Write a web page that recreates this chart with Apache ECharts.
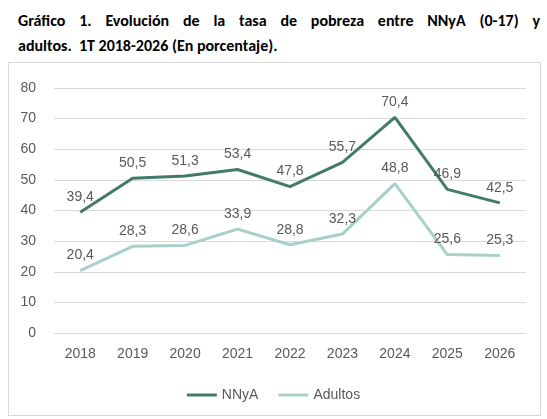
<!DOCTYPE html><html><head><meta charset="utf-8"><script src="https://cdn.jsdelivr.net/npm/echarts@6/dist/echarts.min.js"></script>
<style>body{margin:0;background:#fff;font-family:Carlito,'Liberation Sans',sans-serif}#t{position:absolute;left:18px;top:8px;font-weight:bold;font-size:16px;line-height:25px;color:#000;width:522px}#t1{text-align:justify;text-align-last:justify}#box{position:absolute;left:8px;top:62px;width:531px;height:352px;border:1px solid #d9d9d9}#c{position:absolute;left:0;top:0;width:547px;height:419px}</style></head><body>
<div id="t"><div id="t1">Gráfico 1. Evolución de la tasa de pobreza entre NNyA (0-17) y</div><div>adultos.&nbsp; 1T 2018-2026 (En porcentaje).</div></div><div id="box"></div><div id="c"></div>
<script>
const categories=['2018','2019','2020','2021','2022','2023','2024','2025','2026'];
const nnya=[39.4,50.5,51.3,53.4,47.8,55.7,70.4,46.9,42.5];
const adultos=[20.4,28.3,28.6,33.9,28.8,32.3,48.8,25.6,25.3];
const fmt=p=>String(p.value).replace('.',',');
const lbl={show:true,position:'top',color:'#595959',fontSize:14,formatter:fmt,distance:8};
echarts.init(document.getElementById('c')).setOption({
animation:false,
grid:{left:54,right:21,top:88,bottom:86},
legend:{bottom:12,itemWidth:30,itemHeight:3,icon:'rect',textStyle:{color:'#595959',fontSize:14},itemGap:20},
xAxis:{type:'category',data:categories,axisTick:{show:false},axisLine:{lineStyle:{color:'#d9d9d9'}},axisLabel:{color:'#595959',fontSize:14,margin:14}},
yAxis:{type:'value',min:0,max:80,interval:10,axisLabel:{color:'#595959',fontSize:14,margin:18},splitLine:{lineStyle:{color:'#d9d9d9'}}},
series:[{name:'NNyA',type:'line',data:nnya,symbol:'circle',symbolSize:0.1,lineStyle:{width:3,color:'#437a6c'},itemStyle:{color:'#437a6c'},label:lbl},
{name:'Adultos',type:'line',data:adultos,symbol:'circle',symbolSize:0.1,lineStyle:{width:3,color:'#a8d0c8'},itemStyle:{color:'#a8d0c8'},label:lbl}]
});
</script></body></html>
